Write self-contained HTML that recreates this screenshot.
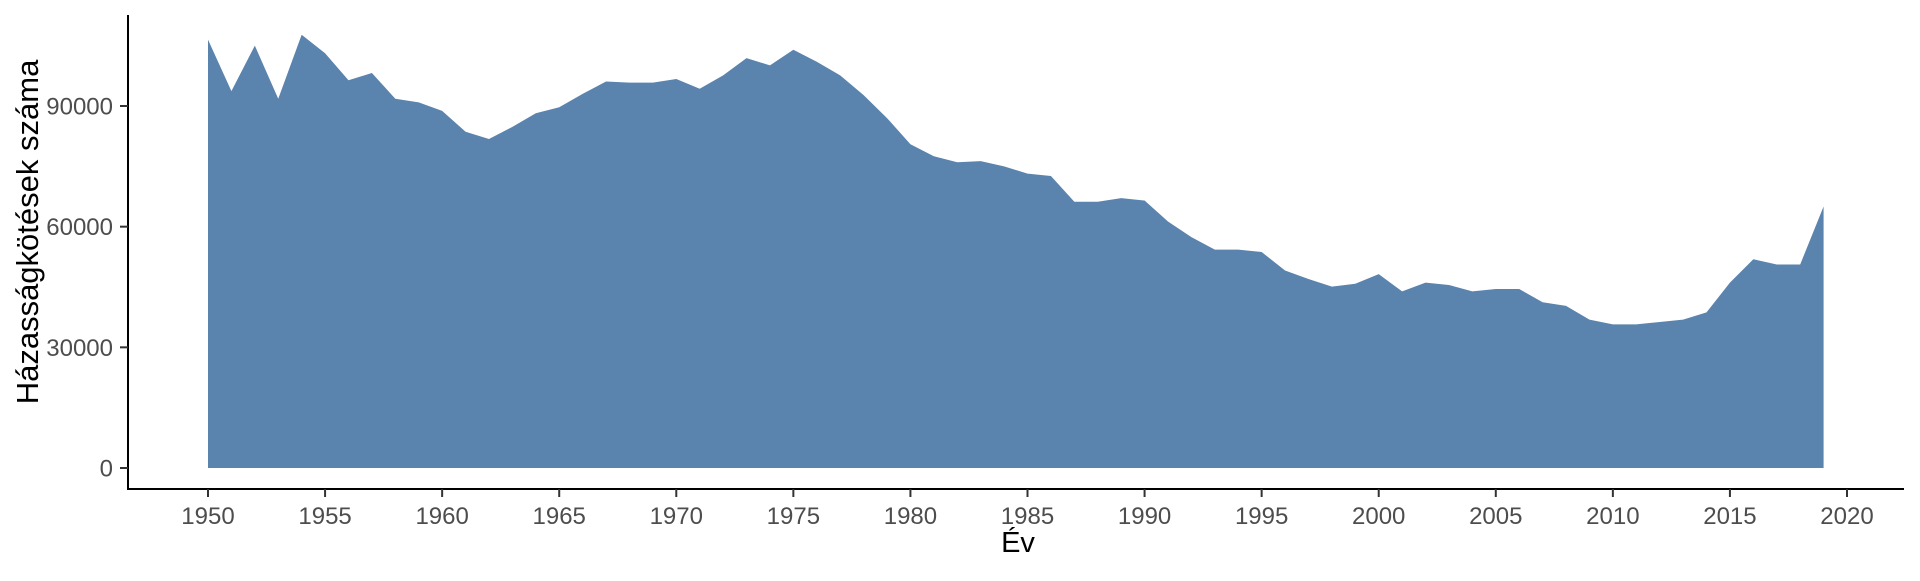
<!DOCTYPE html>
<html><head><meta charset="utf-8"><style>
html,body{margin:0;padding:0;background:#fff;}
svg text{font-family:"Liberation Sans",Arial,sans-serif;}
</style></head><body>
<svg id="chart" width="1920" height="576" viewBox="0 0 1920 576" xmlns="http://www.w3.org/2000/svg"></svg>
<script>
const years = [];
for (let y = 1950; y <= 2019; y++) years.push(y);
const marriages = [106500,93700,105000,91800,107700,103100,96400,98200,91800,90900,
88800,83600,81800,84800,88200,89700,93000,96100,95800,95800,
96700,94300,97600,101900,100100,104000,101000,97600,92700,87000,
80500,77500,76000,76300,75000,73200,72600,66200,66200,67100,
66500,61300,57400,54300,54300,53700,49100,47000,45100,45800,
48200,43900,46100,45500,43900,44500,44500,41200,40300,36900,
35700,35700,36300,36900,38700,46100,51900,50600,50600,65000];
const yTicks = [0,30000,60000,90000];
const xTicks = [1950,1955,1960,1965,1970,1975,1980,1985,1990,1995,2000,2005,2010,2015,2020];

const NS = "http://www.w3.org/2000/svg";
const svg = document.getElementById('chart');
const xS = v => 208 + (v - 1950) * (1847 - 208) / 70;
const yS = v => 468 - v * (468 - 106) / 90000;
function mk(tag, attrs, parent) {
  const e = document.createElementNS(NS, tag);
  for (const k in attrs) e.setAttribute(k, attrs[k]);
  (parent || svg).appendChild(e);
  return e;
}
let d = `M${xS(years[0])},${yS(0)}`;
years.forEach((yr, i) => { d += ` L${xS(yr)},${yS(marriages[i])}`; });
d += ` L${xS(years[years.length-1])},${yS(0)} Z`;
const area = mk('path', {d: d, fill: '#5a83ae'});


const ya = mk('line', {x1:128, y1:15, x2:128, y2:490, stroke:'#000', 'stroke-width':2});


const xa = mk('line', {x1:127, y1:489, x2:1904, y2:489, stroke:'#000', 'stroke-width':2});


yTicks.forEach(t => {
  const y = yS(t);
  const tk = mk('line', {x1:120, y1:y, x2:128, y2:y, stroke:'#333', 'stroke-width':2});
  
  
  const tx = mk('text', {x:113, y:y + 8.5, 'text-anchor':'end', 'font-size':24, fill:'#4d4d4d'});
  tx.textContent = t;
  
  
});
xTicks.forEach(t => {
  const x = xS(t);
  const tk = mk('line', {x1:x, y1:489, x2:x, y2:497, stroke:'#333', 'stroke-width':2});
  
  
  const tx = mk('text', {x:x, y:524, 'text-anchor':'middle', 'font-size':24, fill:'#4d4d4d'});
  tx.textContent = t;
  
  
});
const xt = mk('text', {x:1018, y:552, 'text-anchor':'middle', 'font-size':29, fill:'#000'});
xt.textContent = 'Év';


const yt = mk('text', {x:0, y:0, 'text-anchor':'middle', 'font-size':31, fill:'#000', transform:'translate(38,232) rotate(-90)'});
yt.textContent = 'Házasságkötések száma';


</script>
</body></html>
